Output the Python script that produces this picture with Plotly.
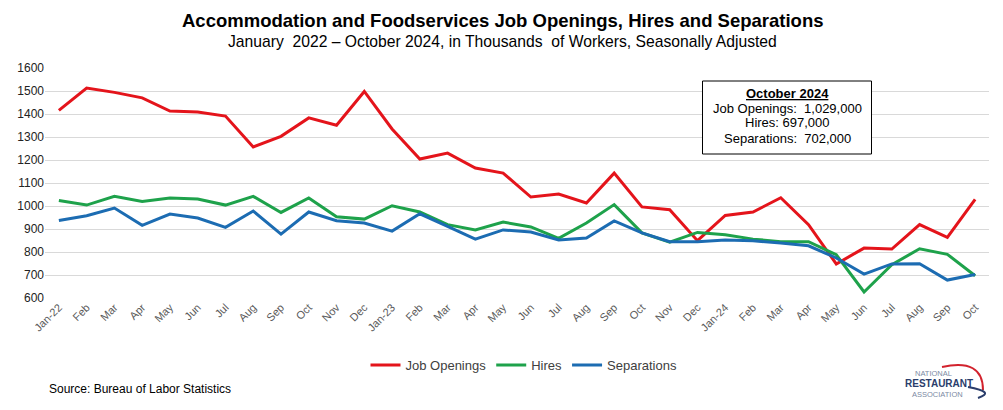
import plotly.graph_objects as go

months = ["Jan-22", "Feb", "Mar", "Apr", "May", "Jun", "Jul", "Aug", "Sep", "Oct", "Nov", "Dec",
          "Jan-23", "Feb", "Mar", "Apr", "May", "Jun", "Jul", "Aug", "Sep", "Oct", "Nov", "Dec",
          "Jan-24", "Feb", "Mar", "Apr", "May", "Jun", "Jul", "Aug", "Sep", "Oct"]

job_openings = [1416, 1513, 1494, 1470, 1413, 1409, 1391, 1257, 1303, 1383, 1351, 1498,
                1335, 1204, 1230, 1165, 1143, 1039, 1052, 1013, 1143, 996, 984, 849,
                959, 974, 1036, 919, 748, 817, 813, 919, 864, 1029]
hires = [1024, 1004, 1042, 1020, 1035, 1030, 1004, 1042, 972, 1035, 953, 943,
         1001, 974, 919, 896, 930, 909, 859, 926, 1006, 883, 843, 885,
         875, 856, 845, 845, 788, 626, 745, 814, 790, 697]
separations = [937, 958, 991, 916, 965, 948, 907, 978, 878, 974, 936, 926,
               891, 966, 911, 856, 896, 887, 852, 861, 935, 883, 845, 845,
               852, 849, 839, 827, 774, 704, 748, 749, 678, 702]

box_lines = ["<b><u>October 2024</u></b>", "Job Openings:  1,029,000",
             "Hires: 697,000", "Separations:  702,000"]

x_idx = list(range(len(months)))

# page offset caused by default body margin
OFF = 8
L, R, T, B = 45, 989, 68, 298  # plot area in page pixels
FW, FH = 987, 394


def px(x):
    return (x - L) / (R - L)


def py(y):
    return (B - y) / (B - T)


fig = go.Figure()
series = [("Job Openings", job_openings, "#e4141b"),
          ("Hires", hires, "#1ea24b"),
          ("Separations", separations, "#1c6cb2")]
for name, vals, col in series:
    fig.add_trace(go.Scatter(x=x_idx, y=vals, mode="lines", name=name,
                             line=dict(color=col, width=3)))

fig.update_layout(
    width=FW, height=FH,
    margin=dict(l=L - OFF, r=(FW + OFF) - R, t=T - OFF, b=(FH + OFF) - B),
    paper_bgcolor="white", plot_bgcolor="white",
    font=dict(family="Liberation Sans, Arial, sans-serif", color="#222"),
    showlegend=True,
    legend=dict(orientation="h", x=px(524), xanchor="center", y=py(365), yanchor="middle",
                font=dict(size=13, color="#404040"), bgcolor="rgba(0,0,0,0)",
                itemwidth=30, tracegroupgap=0),
)
fig.update_xaxes(range=[-0.5, len(months) - 0.5], tickmode="array", tickvals=x_idx,
                 ticktext=months, tickangle=-45, showgrid=False, zeroline=False,
                 showline=False, ticks="", tickfont=dict(size=11, color="#595959"))
fig.update_yaxes(range=[600, 1600], dtick=100, showgrid=True, gridcolor="#d9d9d9",
                 gridwidth=1, zeroline=False, showline=False, ticks="",
                 tickfont=dict(size=12, color="#222"))

ann = []
ann.append(dict(text="<b>Accommodation and Foodservices Job Openings, Hires and Separations</b>",
                x=px(502), y=py(20), xref="paper", yref="paper", showarrow=False,
                font=dict(size=18.5, color="black"), xanchor="center", yanchor="middle"))
ann.append(dict(text="January  2022 – October 2024, in Thousands  of Workers, Seasonally Adjusted",
                x=px(502), y=py(41), xref="paper", yref="paper", showarrow=False,
                font=dict(size=15.7, color="black"), xanchor="center", yanchor="middle"))
# info box
fig.add_shape(type="rect", xref="paper", yref="paper",
              x0=px(702.5), x1=px(871.5), y0=py(81), y1=py(154),
              line=dict(color="black", width=1), fillcolor="white", layer="above")
for txt, yy in zip(box_lines, [93.5, 108, 122.5, 138]):
    ann.append(dict(text=txt, x=px(787), y=py(yy), xref="paper", yref="paper", showarrow=False,
                    font=dict(size=13, color="black"), xanchor="center", yanchor="middle"))
ann.append(dict(text="Source: Bureau of Labor Statistics",
                x=px(47), y=py(389), xref="paper", yref="paper", showarrow=False,
                font=dict(size=12, color="black"), xanchor="left", yanchor="middle"))
# logo as text
ann.append(dict(text="NATIONAL", x=px(933), y=py(373.5), xref="paper", yref="paper",
                showarrow=False, font=dict(size=7.5, color="#7b8aa3"), xanchor="center", yanchor="middle",
                borderpad=0))
ann.append(dict(text="<b>RESTAURANT</b>", x=px(939), y=py(383.5), xref="paper", yref="paper",
                showarrow=False, font=dict(size=10, color="#2a3d6b"), xanchor="center", yanchor="middle",
                borderpad=0))
ann.append(dict(text="ASSOCIATION", x=px(937), y=py(394), xref="paper", yref="paper",
                showarrow=False, font=dict(size=7.5, color="#7b8aa3"), xanchor="center", yanchor="middle",
                borderpad=0))
fig.update_layout(annotations=ann)


def pth(points):
    s = "M {} {}".format(px(points[0][0]), py(points[0][1]))
    for i in range(1, len(points), 2):
        (cx, cy), (ex, ey) = points[i], points[i + 1]
        s += " Q {} {} {} {}".format(px(cx), py(cy), px(ex), py(ey))
    return s


fig.add_shape(type="path", xref="paper", yref="paper",
              path=pth([(942, 367), (983, 358), (983, 390)]),
              line=dict(color="#d2222d", width=2))
fig.add_shape(type="path", xref="paper", yref="paper",
              path=pth([(968, 387), (996, 392), (978, 398)]),
              line=dict(color="#2a3d6b", width=2))

fig.write_html("out.html")
